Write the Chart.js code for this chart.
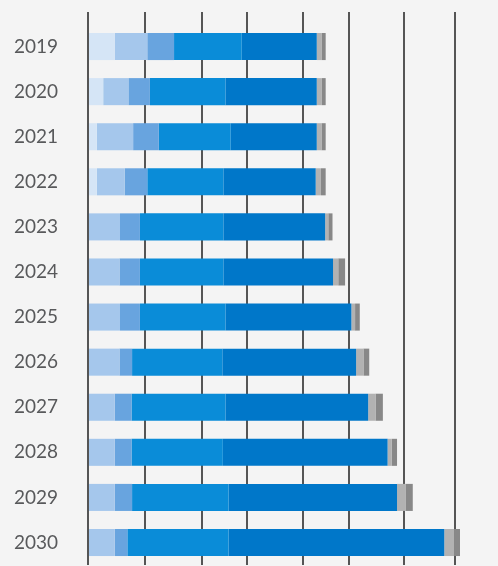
<!DOCTYPE html>
<html>
  <head>
    <title>Stacked Bars 2019-2030</title>
    <script src="https://cdn.jsdelivr.net/npm/chart.js"></script>
    <style>
      html, body { margin: 0; padding: 0; background: #f4f4f4; }
      #wrap { width: 498px; height: 566px; }
    </style>
  </head>
  <body>
    <div id="wrap"><canvas id="barChart"></canvas></div>
    <script>
      // values (one grid step is roughly 10)
      const years = ["2019", "2020", "2021", "2022", "2023", "2024", "2025", "2026", "2027", "2028", "2029", "2030"];
      const veryLight = [5.1, 2.9, 1.7, 1.7, 0, 0, 0, 0, 0, 0, 0, 0];
      const light = [6.2, 4.8, 6.9, 5.3, 6.1, 6.0, 6.1, 6.0, 5.1, 5.1, 5.1, 5.1];
      const medium = [5.1, 4.1, 4.9, 4.3, 3.8, 3.9, 3.8, 2.4, 3.2, 3.2, 3.3, 2.4];
      const bright = [12.9, 14.4, 13.7, 14.5, 15.9, 15.9, 16.3, 17.2, 17.9, 17.4, 18.4, 19.3];
      const dark = [14.3, 17.4, 16.4, 17.6, 19.4, 20.9, 24.0, 25.5, 27.2, 31.4, 32.1, 41.1];
      const lightGray = [0.9, 0.9, 0.9, 1.0, 0.6, 1.0, 0.7, 1.4, 1.4, 0.8, 1.6, 1.9];
      const darkGray = [0.8, 0.8, 0.8, 0.9, 0.8, 1.3, 0.9, 1.1, 1.4, 1.0, 1.4, 1.1];
      // grid lines as they sit in the picture (not evenly spaced there)
      const gridValues = [0, 10.9, 21.7, 30.3, 41.0, 49.8, 60.3, 70];

      const series = [
        { data: veryLight, color: "#d5e5f6" },
        { data: light, color: "#a5c7ec" },
        { data: medium, color: "#68a4df" },
        { data: bright, color: "#0a8cd8" },
        { data: dark, color: "#0077c9" },
        { data: lightGray, color: "#b2b2b2" },
        { data: darkGray, color: "#888888" },
      ];

      const ctx = document.getElementById("barChart").getContext("2d");

      new Chart(ctx, {
        type: "bar",
        data: {
          labels: years,
          datasets: series.map((s) => ({
            data: s.data,
            backgroundColor: s.color,
            borderWidth: 0,
            barPercentage: 0.6,
            categoryPercentage: 1,
          })),
        },
        options: {
          indexAxis: "y",
          responsive: true,
          maintainAspectRatio: false,
          animation: false,
          layout: {
            padding: { top: 12, bottom: 0, left: 14, right: 6 },
          },
          scales: {
            x: {
              stacked: true,
              position: "top",
              min: 0,
              max: 77,
              afterBuildTicks: (scale) => {
                scale.ticks = gridValues.map((v) => ({ value: v }));
              },
              ticks: { display: false },
              grid: {
                color: "#555555",
                lineWidth: 2,
                drawTicks: true,
                tickLength: 12,
              },
              border: { display: false },
            },
            y: {
              stacked: true,
              afterFit: (scale) => {
                scale.width = 74;
              },
              grid: { display: false },
              border: { display: false },
              ticks: {
                padding: 0,
                crossAlign: "far",
                color: "#58595b",
                font: { family: "Lato", size: 19, lineHeight: 0.1 },
              },
            },
          },
          plugins: {
            legend: { display: false },
            tooltip: { enabled: false },
          },
        },
      });
    </script>
  </body>
</html>
